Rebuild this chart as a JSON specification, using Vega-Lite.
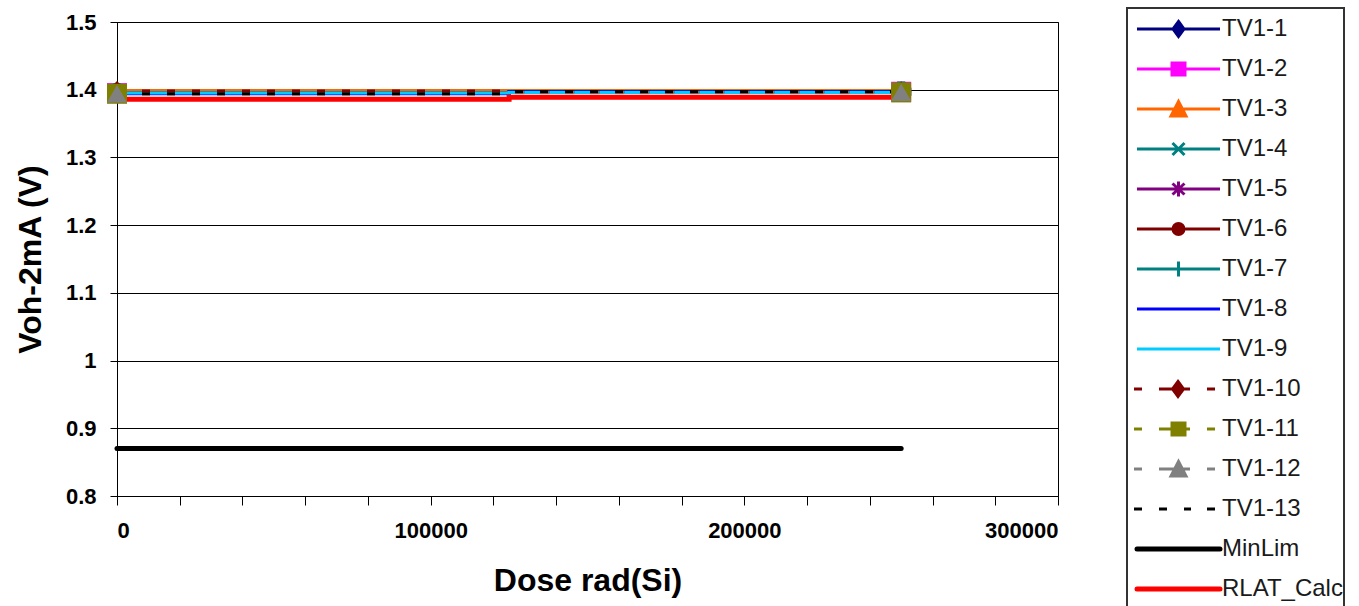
{
  "$schema": "https://vega.github.io/schema/vega-lite/v6.json",
  "width": 941,
  "height": 474,
  "autosize": {"type": "none"},
  "padding": {"left": 117, "top": 22, "right": 301, "bottom": 110},
  "background": "white",
  "config": {
    "font": "Liberation Sans",
    "view": {"stroke": "#000000", "strokeWidth": 1},
    "axis": {"labelColor": "#000000", "titleColor": "#000000", "domainColor": "#000000", "tickColor": "#000000", "labelFontWeight": "bold", "titleFontWeight": "bold"}
  },
  "data": {
    "values": [
      {"series": "TV1-1", "dose": 0, "v": 1.395}, {"series": "TV1-1", "dose": 250000, "v": 1.397},
      {"series": "TV1-2", "dose": 0, "v": 1.395}, {"series": "TV1-2", "dose": 250000, "v": 1.397},
      {"series": "TV1-3", "dose": 0, "v": 1.399}, {"series": "TV1-3", "dose": 250000, "v": 1.399},
      {"series": "TV1-4", "dose": 0, "v": 1.395}, {"series": "TV1-4", "dose": 250000, "v": 1.397},
      {"series": "TV1-5", "dose": 0, "v": 1.395}, {"series": "TV1-5", "dose": 250000, "v": 1.397},
      {"series": "TV1-6", "dose": 0, "v": 1.395}, {"series": "TV1-6", "dose": 250000, "v": 1.397},
      {"series": "TV1-7", "dose": 0, "v": 1.395}, {"series": "TV1-7", "dose": 250000, "v": 1.397},
      {"series": "TV1-8", "dose": 0, "v": 1.394}, {"series": "TV1-8", "dose": 250000, "v": 1.397},
      {"series": "TV1-9", "dose": 0, "v": 1.395}, {"series": "TV1-9", "dose": 250000, "v": 1.396},
      {"series": "TV1-10", "dose": 0, "v": 1.398}, {"series": "TV1-10", "dose": 250000, "v": 1.397},
      {"series": "TV1-11", "dose": 0, "v": 1.394}, {"series": "TV1-11", "dose": 250000, "v": 1.396},
      {"series": "TV1-12", "dose": 0, "v": 1.394}, {"series": "TV1-12", "dose": 250000, "v": 1.396},
      {"series": "TV1-13", "dose": 0, "v": 1.394}, {"series": "TV1-13", "dose": 250000, "v": 1.397},
      {"series": "MinLim", "dose": 0, "v": 0.87}, {"series": "MinLim", "dose": 250000, "v": 0.87},
      {"series": "RLAT_Calc", "dose": 0, "v": 1.386}, {"series": "RLAT_Calc", "dose": 250000, "v": 1.389}
    ]
  },
  "encoding": {
    "x": {
      "field": "dose", "type": "quantitative",
      "scale": {"domain": [0, 300000], "nice": false},
      "axis": {
        "title": "Dose rad(Si)", "titleFontSize": 32, "titlePadding": 24,
        "values": [0, 20000, 40000, 60000, 80000, 100000, 120000, 140000, 160000, 180000, 200000, 220000, 240000, 260000, 280000, 300000],
        "labelExpr": "datum.value % 100000 === 0 ? format(datum.value, 'd') : ''",
        "labelOverlap": false, "labelFontSize": 22, "labelPadding": 15, "tickSize": 9,
        "grid": false,
        "encode": {"ticks": {"update": {"y": {"value": -5}, "y2": {"signal": "datum.value % 100000 === 0 ? 9 : 0"}}}}
      }
    },
    "y": {
      "field": "v", "type": "quantitative",
      "scale": {"domain": [0.8, 1.5], "nice": false, "zero": false},
      "axis": {
        "title": "Voh-2mA (V)", "titleFontSize": 32, "titleX": -70, "titleY": 237,
        "values": [0.8, 0.9, 1.0, 1.1, 1.2, 1.3, 1.4, 1.5],
        "format": "~g", "labelFontSize": 22, "labelPadding": 14, "tickSize": 7,
        "grid": true, "gridColor": "#000000", "gridOpacity": 1, "gridWidth": 1
      }
    }
  },
  "layer": [
    {
      "transform": [{"filter": {"field": "series", "oneOf": ["TV1-1", "TV1-2", "TV1-3", "TV1-4", "TV1-5", "TV1-6", "TV1-7", "TV1-8", "TV1-9"]}}],
      "mark": {"type": "line", "interpolate": "step", "strokeWidth": 3},
      "encoding": {
        "detail": {"field": "series"},
        "color": {
          "field": "series", "type": "nominal",
          "scale": {
            "domain": ["TV1-1", "TV1-2", "TV1-3", "TV1-4", "TV1-5", "TV1-6", "TV1-7", "TV1-8", "TV1-9", "TV1-10", "TV1-11", "TV1-12", "TV1-13", "MinLim", "RLAT_Calc"],
            "range": ["#000080", "#FF00FF", "#FF6600", "#008080", "#800080", "#800000", "#008080", "#0000FF", "#00CCFF", "#800000", "#808000", "#808080", "#000000", "#000000", "#FF0000"]
          },
          "legend": {
            "title": null,
            "orient": "none", "legendX": 1010, "legendY": -14,
            "padding": 1, "strokeColor": "#333333", "fillColor": "#ffffff",
            "symbolSize": 400, "clipHeight": 40, "rowPadding": 0,
            "symbolStrokeWidth": 3,
            "labelFontSize": 24, "labelColor": "#1a1a1a", "labelOffset": 70, "labelLimit": 300,
            "encode": {
              "legend": {"update": {"strokeWidth": {"value": 2}, "width": {"value": 225}}},
              "symbols": {
                "update": {
                  "size": {"value": 400},
                  "shape": {"signal": "({'TV1-1':'M-0.3,0H8M3.85,-0.75L4.4,0L3.85,0.75L3.3,0Z','TV1-2':'M-0.3,0H8M3.2,-0.6H4.5V0.6H3.2Z','TV1-3':'M-0.3,0H8M3.85,-0.75L4.6,0.7H3.1Z','TV1-4':'M-0.3,0H8M3.25,-0.6L4.45,0.6M3.25,0.6L4.45,-0.6','TV1-5':'M-0.3,0H8M3.25,-0.55L4.45,0.55M3.25,0.55L4.45,-0.55M3.85,-0.75V0.75','TV1-6':'M-0.3,0H8M3.3,0A0.55,0.55,0,1,0,4.4,0A0.55,0.55,0,1,0,3.3,0Z','TV1-7':'M-0.3,0H8M3.85,-0.75V0.75','TV1-10':'M-0.6,0H0.2M1.9,0H5M6.7,0H7.5M3.8,-0.75L4.35,0L3.8,0.75L3.25,0Z','TV1-11':'M-0.6,0H0.2M1.9,0H5M6.7,0H7.5M3.2,-0.6H4.5V0.6H3.2Z','TV1-12':'M-0.6,0H0.2M1.9,0H5M6.7,0H7.5M3.85,-0.75L4.6,0.7H3.1Z','TV1-13':'M-0.6,0H0.2M1.9,0H2.7M4.4,0H5.1M6.7,0H7.5'})[datum.value] || 'M-0.3,0H8'"},
                  "fill": {"scale": "color", "field": "value"},
                  "stroke": {"scale": "color", "field": "value"},
                  "strokeWidth": {"signal": "datum.value === 'MinLim' || datum.value === 'RLAT_Calc' ? 5 : 3"},
                  "strokeCap": {"signal": "datum.value === 'MinLim' || datum.value === 'RLAT_Calc' ? 'round' : 'butt'"},
                  "opacity": {"value": 1}
                }
              }
            }
          }
        }
      }
    },
    {
      "transform": [{"filter": {"field": "series", "oneOf": ["TV1-10", "TV1-11", "TV1-12", "TV1-13"]}}],
      "mark": {"type": "line", "interpolate": "step", "strokeWidth": 3, "strokeDash": [8, 17]},
      "encoding": {
        "detail": {"field": "series"},
        "color": {"field": "series", "type": "nominal"}
      }
    },
    {
      "transform": [{"filter": {"field": "series", "oneOf": ["MinLim", "RLAT_Calc"]}}],
      "mark": {"type": "line", "interpolate": "step", "strokeWidth": 5, "strokeCap": "round"},
      "encoding": {
        "detail": {"field": "series"},
        "color": {"field": "series", "type": "nominal"}
      }
    },
    {
      "transform": [{"filter": {"field": "series", "oneOf": ["TV1-1", "TV1-2", "TV1-3", "TV1-4", "TV1-5", "TV1-6", "TV1-7", "TV1-10", "TV1-11", "TV1-12"]}}],
      "mark": {"type": "point", "filled": true, "opacity": 1, "size": 400},
      "encoding": {
        "color": {"field": "series", "type": "nominal"},
        "shape": {
          "field": "series", "type": "nominal",
          "scale": {
            "domain": ["TV1-1", "TV1-2", "TV1-3", "TV1-4", "TV1-5", "TV1-6", "TV1-7", "TV1-10", "TV1-11", "TV1-12"],
            "range": ["diamond", "square", "triangle-up", "cross", "cross", "circle", "cross", "diamond", "square", "triangle-up"]
          },
          "legend": null
        }
      }
    }
  ]
}
